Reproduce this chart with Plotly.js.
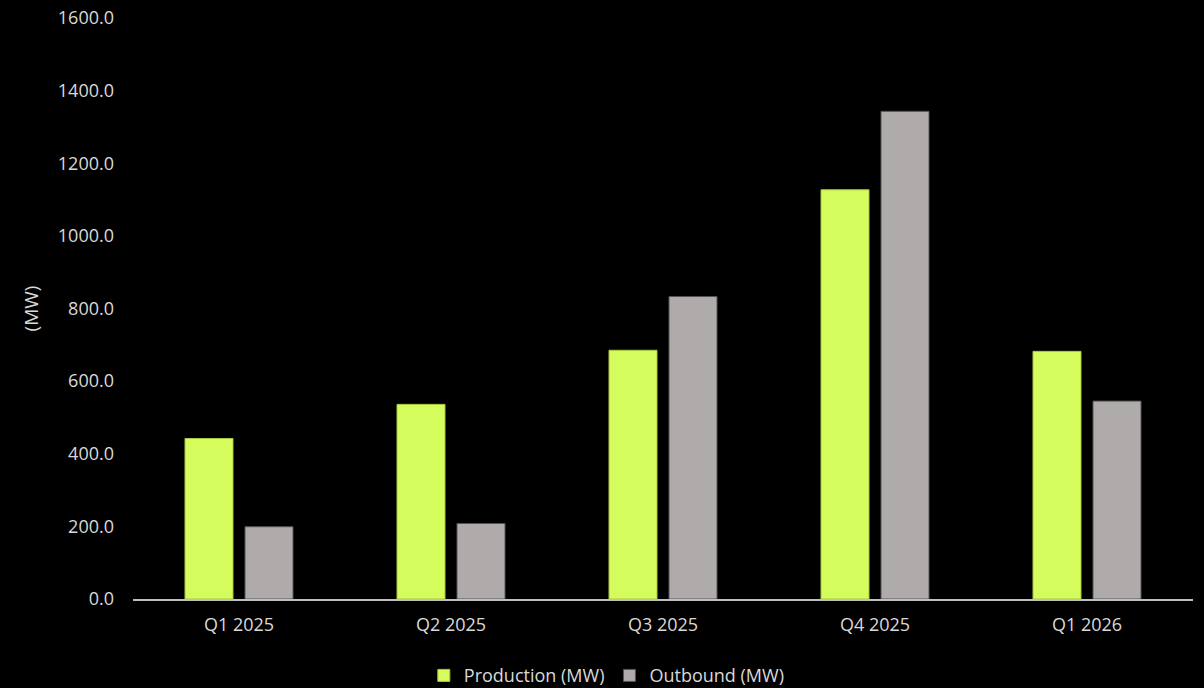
<!DOCTYPE html>
<html>
<head>
<meta charset="utf-8">
<script src="https://cdn.plot.ly/plotly-3.0.1.min.js"></script>
<style>html,body{margin:0;padding:0;background:#000;}#chart{width:1204px;height:688px;}</style>
</head>
<body>
<div id="chart"></div>
<script>
const categories = ["Q1 2025", "Q2 2025", "Q3 2025", "Q4 2025", "Q1 2026"];
const production = [442, 536, 685, 1127, 682];
const outbound = [199, 208, 833, 1343, 545];
const tickVals = [0, 200, 400, 600, 800, 1000, 1200, 1400, 1600];

const font = {family: "Open Sans, Liberation Sans, sans-serif", size: 18, color: "#d9d9d9"};

const data = [
  {type: "bar", name: "Production (MW)", x: categories, y: production,
   marker: {color: "#d4fc5c", line: {color: "#a8c840", width: 1}}},
  {type: "bar", name: "Outbound (MW)", x: categories, y: outbound,
   marker: {color: "#afabab", line: {color: "#555555", width: 1}}}
];

const layout = {
  width: 1204, height: 688,
  paper_bgcolor: "#000", plot_bgcolor: "#000",
  font: font,
  margin: {l: 133, r: 11, t: 18, b: 89, autoexpand: false},
  barmode: "group", bargap: 0.434, bargroupgap: 0.2,
  showlegend: true,
  legend: {orientation: "h", x: 0.447, xanchor: "center", y: -0.132, yanchor: "middle",
    font: font, itemwidth: 30, traceorder: "normal"},
  xaxis: {showline: true, linecolor: "#bfbfbf", linewidth: 2, showgrid: false, ticks: "",
    tickfont: font, zeroline: false, automargin: false, ticklabelstandoff: 8},
  yaxis: {range: [0, 1600], tickvals: tickVals, tickformat: ".1f", showgrid: false,
    zeroline: false, showline: false, ticks: "", tickfont: font, ticklabelstandoff: 18,
    automargin: false,
    title: {text: "(MW)", font: {family: font.family, size: 19, color: "#d9d9d9"}, standoff: 14}}
};

Plotly.newPlot("chart", data, layout, {displayModeBar: false, staticPlot: true});
</script>
</body>
</html>
